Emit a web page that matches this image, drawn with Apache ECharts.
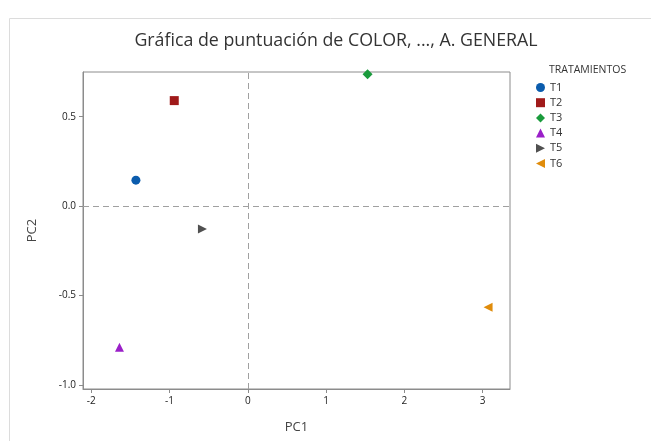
<!DOCTYPE html>
<html>
<head>
<meta charset="utf-8">
<script src="https://cdn.jsdelivr.net/npm/echarts@6/dist/echarts.min.js"></script>
<style>html,body{margin:0;padding:0;background:#fff;}#c{width:651px;height:441px;}</style>
</head>
<body>
<div id="c"></div>
<script>
const categories = ['T1','T2','T3','T4','T5','T6'];
const pc1Values = [-1.43, -0.94, 1.53, -1.64, -0.58, 3.07];
const pc2Values = [0.145, 0.59, 0.737, -0.79, -0.128, -0.566];
const xTicks = [-2, -1, 0, 1, 2, 3];
const yTicks = [-1.0, -0.5, 0.0, 0.5];
const colors = ['#0B5CAD','#A01A1A','#1A9B3C','#9A1FC8','#505050','#E08C0B'];
const symbols = ['circle','rect','diamond','triangle','path://M0,0 L10,5 L0,10 Z','path://M10,0 L0,5 L10,10 Z'];
const sizes = [9,9,10,9,9,9];

const FONT = '"Open Sans", "Noto Sans", sans-serif';
const chart = echarts.init(document.getElementById('c'));

const series = categories.map((name, i) => ({
  name: name,
  type: 'scatter',
  data: [[pc1Values[i], pc2Values[i]]],
  symbol: symbols[i],
  symbolSize: sizes[i],
  itemStyle: { color: colors[i], opacity: 1 },
  z: 5
}));
series[0].markLine = {
  silent: true,
  symbol: 'none',
  label: { show: false },
  lineStyle: { type: [6, 4], color: '#a0a0a0', width: 1 },
  data: [{ xAxis: 0 }, { yAxis: 0 }],
  z: 1
};

chart.setOption({
  animation: false,
  backgroundColor: '#fff',
  title: {
    text: 'Gráfica de puntuación de COLOR, ..., A. GENERAL',
    left: 331, top: 27, textAlign: 'center',
    textStyle: { fontFamily: FONT, fontSize: 17.8, fontWeight: 'normal', color: '#333' }
  },
  graphic: [
    { type: 'rect', shape: { x: 9.5, y: 18.5, width: 700, height: 500 }, style: { fill: 'none', stroke: '#dcdcdc', lineWidth: 1 }, silent: true, z: -1 },
    { type: 'text', left: 549, top: 65, style: { text: 'TRATAMIENTOS', fontFamily: FONT, fontSize: 10.5, fill: '#333' } }
  ],
  legend: {
    orient: 'vertical',
    left: 531, top: 77,
    data: categories.map((name, i) => ({ name: name, icon: symbols[i], itemStyle: { color: colors[i], opacity: 1 } })),
    itemWidth: 9, itemHeight: 9, itemGap: 4.2,
    textStyle: { fontFamily: FONT, fontSize: 11, color: '#333' }
  },
  grid: {
    left: 83, right: 141, top: 72, bottom: 52,
    show: true, borderColor: '#8c8c8c', borderWidth: 1, backgroundColor: 'transparent'
  },
  xAxis: {
    type: 'value', min: -2.106, max: 3.35,
    name: 'PC1', nameLocation: 'middle', nameGap: 32,
    nameTextStyle: { fontFamily: FONT, fontSize: 13, color: '#444' },
    axisLine: { show: true, onZero: false, lineStyle: { color: '#8c8c8c' } },
    axisTick: { show: true, length: 4, inside: false, customValues: xTicks, lineStyle: { color: '#8c8c8c' } },
    axisLabel: { customValues: xTicks, fontFamily: FONT, fontSize: 10, color: '#222', margin: 7, formatter: v => String(v) },
    splitLine: { show: false }
  },
  yAxis: {
    type: 'value', min: -1.023, max: 0.75,
    name: 'PC2', nameLocation: 'middle', nameGap: 44,
    nameTextStyle: { fontFamily: FONT, fontSize: 13, color: '#444' },
    axisLine: { show: true, onZero: false, lineStyle: { color: '#8c8c8c' } },
    axisTick: { show: true, length: 4, customValues: yTicks, lineStyle: { color: '#8c8c8c' } },
    axisLabel: { customValues: yTicks, fontFamily: FONT, fontSize: 10, color: '#222', margin: 7, formatter: v => v.toFixed(1) },
    splitLine: { show: false }
  },
  series: series
});
</script>
</body>
</html>
